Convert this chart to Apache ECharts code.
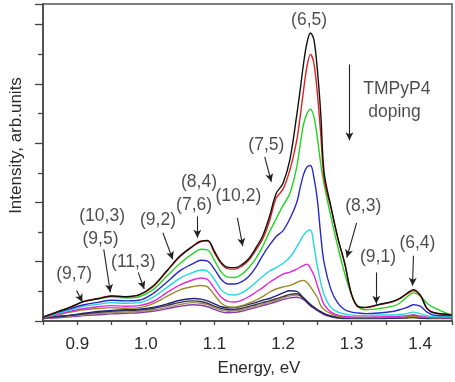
<!DOCTYPE html>
<html><head><meta charset="utf-8">
<script src="https://cdn.jsdelivr.net/npm/echarts@6/dist/echarts.min.js"></script>
<style>html,body{margin:0;padding:0;background:#fff}#c{width:455px;height:382px}</style>
</head><body><div id="c"></div>
<script>
// Photon energy sample points (eV)
const energy = [0.85,0.87,0.89,0.91,0.93, 0.95,0.97,0.99,1.01,1.03, 1.05,1.07,1.08,1.09,1.10, 1.11,1.12,1.13,1.14,1.15,
  1.16,1.17,1.18,1.19,1.20, 1.21,1.22,1.225,1.23,1.235, 1.24,1.245,1.25,1.255,1.26, 1.27,1.28,1.29,1.30,1.31,
  1.32,1.34,1.36,1.37,1.38, 1.39,1.40,1.41,1.42,1.44, 1.446];

// PL intensity (arb. units) for increasing TMPyP4 doping
const sBlack = [0.13,0.30,0.47,0.66,0.75, 0.84,0.82,0.88,1.17,1.68, 2.2,2.55,2.68,2.72,2.35, 1.97,1.81,1.8,1.9,2.1,
  2.45,2.85,3.5,4.3,4.65, 5.45,6.95,7.8,8.7,9.4, 9.72,9.5,8.5,7.0,5.0, 3.85,2.8,1.95,0.9,0.48,
  0.46,0.56,0.66,0.76,0.92, 1.06,0.88,0.42,0.28,0.22, 0.2];
const sRed = [0.13,0.30,0.47,0.66,0.76, 0.85,0.82,0.88,1.15,1.66, 2.18,2.55,2.7,2.7,2.3, 1.93,1.76,1.75,1.85,2.05,
  2.38,2.75,3.35,4.15,4.45, 5.1,6.1,6.9,7.8,8.6, 9.0,8.7,7.7,6.3,4.8, 3.8,2.78,1.92,0.88,0.47,
  0.45,0.55,0.65,0.75,0.9, 1.02,0.86,0.42,0.28,0.22, 0.2];
const sGreen = [0.13,0.30,0.47,0.66,0.74, 0.82,0.78,0.82,1.05,1.5, 1.95,2.3,2.42,2.4,2.05, 1.65,1.48,1.47,1.58,1.8,
  2.1,2.5,3.0,3.45,3.9, 4.3,5.2,5.95,6.65,7.0, 7.15,6.9,6.2,5.3,4.6, 3.5,2.5,1.6,0.88,0.48,
  0.38,0.42,0.5,0.6,0.8, 0.95,0.85,0.6,0.45,0.25, 0.22];
const sBlue = [0.13,0.28,0.42,0.55,0.63, 0.7,0.68,0.7,0.92,1.3, 1.7,1.95,2.05,2.02,1.75, 1.4,1.25,1.25,1.33,1.5,
  1.8,2.2,2.55,2.85,3.05, 3.45,4.0,4.5,4.95,5.2, 5.25,4.85,4.1,2.9,1.95, 1.05,0.6,0.38,0.3,0.27,
  0.25,0.27,0.32,0.38,0.45, 0.55,0.5,0.3,0.2,0.18, 0.18];
const sCyan = [0.12,0.25,0.38,0.5,0.56, 0.62,0.6,0.62,0.8,1.12, 1.45,1.65,1.72,1.68,1.4, 1.05,0.9,0.88,0.95,1.1,
  1.3,1.5,1.68,1.8,1.95, 2.15,2.5,2.7,2.9,3.03, 3.07,2.55,1.85,1.3,0.88, 0.45,0.3,0.24,0.2,0.18,
  0.18,0.2,0.2,0.22,0.25, 0.3,0.25,0.18,0.15,0.15, 0.15];
const sMagenta = [0.12,0.22,0.33,0.42,0.48, 0.52,0.5,0.52,0.65,0.95, 1.22,1.4,1.45,1.4,1.1, 0.8,0.66,0.64,0.7,0.82,
  0.97,1.12,1.3,1.45,1.58, 1.65,1.75,1.82,1.88,1.92, 1.78,1.55,1.2,0.85,0.55, 0.3,0.2,0.16,0.14,0.13,
  0.13,0.14,0.15,0.16,0.18, 0.2,0.17,0.13,0.12,0.12, 0.12];
const sOlive = [0.12,0.2,0.3,0.38,0.42, 0.45,0.43,0.45,0.58,0.82, 1.05,1.17,1.2,1.15,0.88, 0.6,0.48,0.47,0.52,0.6,
  0.7,0.82,0.97,1.08,1.15, 1.2,1.3,1.35,1.37,1.3, 1.15,0.98,0.8,0.52,0.38, 0.25,0.16,0.13,0.12,0.12,
  0.12,0.12,0.13,0.13,0.14, 0.15,0.13,0.12,0.11,0.11, 0.11];
const sNavy = [0.1,0.15,0.2,0.26,0.32, 0.36,0.38,0.4,0.46,0.57, 0.7,0.76,0.74,0.68,0.58, 0.48,0.44,0.45,0.5,0.56,
  0.62,0.7,0.76,0.85,0.95, 1.02,1.0,0.9,0.78,0.65, 0.52,0.45,0.38,0.32,0.25, 0.17,0.12,0.11,0.1,0.1,
  0.1,0.1,0.1,0.11,0.12, 0.14,0.11,0.1,0.1,0.1, 0.1];
const sDark = [0.1,0.14,0.19,0.24,0.29, 0.33,0.35,0.37,0.42,0.52, 0.63,0.68,0.66,0.6,0.5, 0.42,0.38,0.39,0.43,0.49,
  0.55,0.62,0.68,0.75,0.82, 0.9,0.92,0.86,0.75,0.65, 0.55,0.46,0.38,0.3,0.24, 0.16,0.12,0.1,0.1,0.1,
  0.1,0.1,0.1,0.1,0.11, 0.12,0.1,0.1,0.1,0.1, 0.1];
const sTan = [0.09,0.13,0.17,0.21,0.25, 0.28,0.3,0.32,0.37,0.46, 0.56,0.62,0.6,0.55,0.45, 0.37,0.33,0.34,0.38,0.44,
  0.5,0.57,0.63,0.7,0.78, 0.85,0.88,0.85,0.78,0.68, 0.57,0.47,0.38,0.3,0.23, 0.15,0.11,0.09,0.09,0.09,
  0.09,0.09,0.09,0.1,0.1, 0.12,0.1,0.09,0.09,0.09, 0.09];
const sViolet = [0.08,0.11,0.14,0.18,0.21, 0.24,0.26,0.28,0.33,0.41, 0.5,0.55,0.53,0.48,0.39, 0.31,0.28,0.29,0.33,0.39,
  0.45,0.52,0.58,0.65,0.72, 0.78,0.8,0.78,0.72,0.62, 0.52,0.43,0.35,0.28,0.21, 0.14,0.1,0.08,0.08,0.08,
  0.08,0.08,0.09,0.1,0.12, 0.2,0.12,0.08,0.08,0.08, 0.08];

const xTickLabels = ['0.9','1.0','1.1','1.2','1.3','1.4'];

// Annotation texts anchored in data units [energy, intensity]
const labelTexts = ['(6,5)','TMPyP4','doping','(7,5)','(8,4)','(7,6)','(10,2)','(9,2)','(10,3)','(9,5)','(11,3)','(9,7)','(8,3)','(9,1)','(6,4)'];
const labelAt = [[1.238,10.14],[1.366,7.83],[1.3625,7.05],[1.1757,5.93],[1.0775,4.70],[1.0703,3.92],[1.1349,4.20],[1.0177,3.42],
  [0.9362,3.53],[0.9338,2.75],[0.9817,1.97],[0.8955,1.58],[1.317,3.87],[1.3385,2.14],[1.396,2.64]];
// Arrows: [from, to] in data units
const arrowsFrom = [[1.2968,8.66],[1.1733,5.54],[1.0751,3.53],[1.1335,3.48],[1.0248,2.98],[0.9386,2.42],[0.9889,1.64],[0.8989,1.03],[1.3073,3.31],[1.336,1.64],[1.3902,2.20]];
const arrowsTo   = [[1.2968,6.10],[1.1829,4.70],[1.0751,2.81],[1.1412,2.53],[1.0392,2.08],[0.9481,0.97],[0.9975,1.08],[0.9075,0.64],[1.2930,2.14],[1.336,0.58],[1.3888,1.19]];

const curves = [
  {values: sViolet, color: '#8a3aa6'},
  {values: sTan, color: '#a48c6a'},
  {values: sDark, color: '#3a3a3a'},
  {values: sNavy, color: '#23237a'},
  {values: sOlive, color: '#9c8a28'},
  {values: sMagenta, color: '#e028d8'},
  {values: sCyan, color: '#22d8e0'},
  {values: sBlue, color: '#2828c8'},
  {values: sGreen, color: '#22d422'},
  {values: sRed, color: '#e02222'},
  {values: sBlack, color: '#111111'}
];

const FONT = "'Liberation Sans', Arial, sans-serif";
const chart = echarts.init(document.getElementById('c'), null, {renderer: 'canvas'});

const series = curves.map(c => ({
  type: 'line',
  data: energy.map((e, i) => [e, c.values[i]]),
  showSymbol: false,
  smooth: 0.35,
  lineStyle: {color: c.color, width: 1.4},
  itemStyle: {color: c.color},
  silent: true,
  animation: false
}));

series.push({
  type: 'scatter',
  data: labelTexts.map((t, i) => ({name: t, value: labelAt[i]})),
  symbolSize: 0,
  silent: true,
  animation: false,
  label: {show: true, position: 'inside', formatter: p => p.name, fontFamily: FONT, fontSize: 17.5, color: '#1e1e1e'},
  markLine: {
    silent: true,
    animation: false,
    symbol: ['none', 'arrow'],
    symbolSize: [6, 8],
    label: {show: false},
    lineStyle: {color: '#222', width: 1.1, type: 'solid'},
    data: arrowsFrom.map((f, i) => [{coord: f}, {coord: arrowsTo[i]}])
  }
});

chart.setOption({
  animation: false,
  backgroundColor: '#fff',
  grid: {left: 40, right: 0, top: 4, bottom: 58, show: true, borderColor: '#555', borderWidth: 1.5, backgroundColor: 'transparent'},
  xAxis: {
    type: 'value', min: 0.85, max: 1.4464, interval: 0.05,
    axisLine: {show: true, onZero: false, lineStyle: {color: '#444', width: 1.5}},
    axisTick: {show: true, inside: false, length: 4, lineStyle: {color: '#444', width: 1.3}},
    splitLine: {show: false},
    axisLabel: {
      margin: 15, fontFamily: FONT, fontSize: 17, color: '#2a2a2a',
      formatter: v => { const s = v.toFixed(1); return (Math.abs(v * 10 - Math.round(v * 10)) < 1e-6 && xTickLabels.includes(s)) ? s : ''; }
    },
    name: 'Energy, eV', nameLocation: 'middle', nameGap: 39,
    nameTextStyle: {fontFamily: FONT, fontSize: 17, color: '#2a2a2a', padding: [0, 0, 0, 23]}
  },
  yAxis: {
    type: 'value', min: 0, max: 10.7, interval: 2,
    axisLine: {show: true, onZero: false, lineStyle: {color: '#444', width: 1.5}},
    axisTick: {show: true, inside: false, length: 8, lineStyle: {color: '#444', width: 1.3}},
    minorTick: {show: true, splitNumber: 2, length: 5, lineStyle: {color: '#444', width: 1.3}},
    splitLine: {show: false},
    axisLabel: {show: false},
    name: 'Intensity, arb.units', nameLocation: 'middle', nameGap: 18,
    nameTextStyle: {fontFamily: FONT, fontSize: 17, color: '#2a2a2a', padding: [0, 0, 0, 34]}
  },
  series: series
});
</script>
</body></html>
